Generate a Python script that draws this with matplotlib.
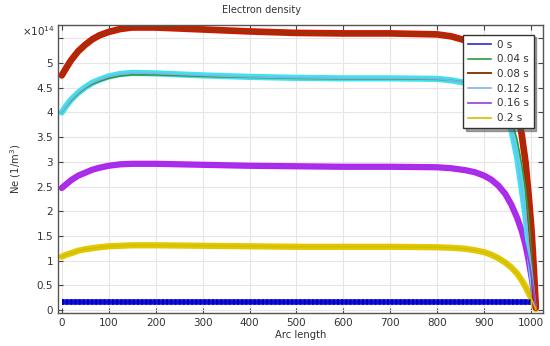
import matplotlib
matplotlib.use("Agg")
import matplotlib.pyplot as plt

arc = [0, 10, 20, 35, 50, 65, 80, 100, 125, 150, 200, 300, 400, 500, 600, 700,
       800, 830, 860, 880, 900, 915, 930, 945, 958, 970, 980, 988, 995, 1001,
       1006, 1010]

ne_004 = [4.0, 4.13, 4.24, 4.38, 4.49, 4.57, 4.63, 4.69, 4.74, 4.76, 4.76, 4.73,
          4.71, 4.69, 4.68, 4.68, 4.67, 4.65, 4.61, 4.57, 4.5, 4.42, 4.3, 4.12,
          3.85, 3.45, 2.95, 2.45, 1.85, 1.2, 0.6, 0.05]
ne_008 = [4.75, 4.91, 5.06, 5.24, 5.37, 5.48, 5.56, 5.63, 5.69, 5.72, 5.72, 5.68,
          5.64, 5.61, 5.6, 5.6, 5.58, 5.54, 5.46, 5.38, 5.27, 5.15, 4.98, 4.75,
          4.45, 4.05, 3.55, 3.0, 2.3, 1.6, 0.8, 0.05]
ne_012 = [4.0, 4.14, 4.26, 4.4, 4.51, 4.6, 4.66, 4.73, 4.78, 4.8, 4.79, 4.75,
          4.72, 4.7, 4.69, 4.69, 4.68, 4.65, 4.6, 4.54, 4.45, 4.34, 4.18, 3.98,
          3.65, 3.1, 2.45, 1.9, 1.3, 0.8, 0.4, 0.05]
ne_016 = [2.47, 2.55, 2.63, 2.72, 2.78, 2.84, 2.88, 2.92, 2.95, 2.96, 2.96, 2.94,
          2.92, 2.91, 2.9, 2.9, 2.89, 2.87, 2.83, 2.79, 2.72, 2.64, 2.52, 2.35,
          2.13, 1.87, 1.6, 1.32, 0.99, 0.66, 0.35, 0.05]
ne_02 = [1.08, 1.12, 1.15, 1.2, 1.23, 1.25, 1.27, 1.29, 1.3, 1.31, 1.31, 1.3,
         1.29, 1.28, 1.28, 1.28, 1.27, 1.26, 1.24, 1.21, 1.17, 1.12, 1.05, 0.96,
         0.86, 0.74, 0.6, 0.47, 0.34, 0.22, 0.11, 0.02]
arc_0 = [0, 500, 1000]
ne_0 = [0.17, 0.17, 0.17]

labels = ["0 s", "0.04 s", "0.08 s", "0.12 s", "0.16 s", "0.2 s"]
yticks = [0, 0.5, 1, 1.5, 2, 2.5, 3, 3.5, 4, 4.5, 5, 5.5]
ytick_labels = ["0", "0.5", "1", "1.5", "2", "2.5", "3", "3.5", "4", "4.5", "5", ""]
xticks = [0, 100, 200, 300, 400, 500, 600, 700, 800, 900, 1000]

plt.rcParams['font.family'] = ['DejaVu Sans']
fig = plt.figure(figsize=(5.5, 3.46), dpi=100)
ax = fig.add_axes([0.1055, 0.0962, 0.8815, 0.8315])

txt = '#333333'
# thick highlight strokes
ax.plot(arc_0, ne_0, color='#1010ee', lw=4.0, solid_capstyle='butt', zorder=2)
ax.plot(arc_0, ne_0, color='#0000b0', lw=4.0, ls=(0, (0.35, 0.4)), zorder=2.1)
ax.plot(arc, ne_02, color='#e3c800', lw=4.5, solid_capstyle='round', zorder=2)
ax.plot(arc, ne_016, color='#b822f0', lw=4.5, solid_capstyle='round', zorder=2)
ax.plot(arc, ne_012, color='#3fe3f0', lw=4.5, solid_capstyle='round', zorder=2)
ax.plot(arc, ne_008, color='#cc1a00', lw=4.8, solid_capstyle='round', zorder=2)

# thin series lines
ax.plot([], [], color='#2a2ad0', lw=1.2, label=labels[0])
ax.plot(arc, ne_004, color='#2f9a40', lw=1.2, label=labels[1], zorder=3)
ax.plot(arc, ne_008, color='#8a3a10', lw=1.4, label=labels[2], zorder=3)
ax.plot(arc, ne_012, color='#7fb5ea', lw=1.2, label=labels[3], zorder=3)
ax.plot(arc, ne_016, color='#9040e0', lw=1.2, label=labels[4], zorder=3)
ax.plot(arc, ne_02, color='#d0c000', lw=1.2, label=labels[5], zorder=3)

ax.set_xlim(-8, 1025)
ax.set_ylim(-0.055, 5.77)
ax.set_xticks(xticks)
ax.set_yticks(yticks)
ax.set_yticklabels(ytick_labels)
ax.tick_params(direction='in', top=True, right=True, labelsize=7.5,
               colors='#444444', labelcolor=txt, length=3.5, width=0.8)
ax.grid(True, color='#e6e6e6', lw=0.8, zorder=0)
ax.set_axisbelow(True)
for s in ax.spines.values():
    s.set_color('#555555')
    s.set_linewidth(1.0)

ax.set_title("Electron density", fontsize=7.0, color=txt, pad=9, x=0.42)
ax.set_xlabel("Arc length", fontsize=7.2, color=txt, labelpad=2)
ax.set_ylabel("Ne (1/m$^3$)", fontsize=7.2, color=txt, labelpad=10)
fig.text(0.040, 0.91, "×10$^{14}$", fontsize=7.5, color=txt, va='center')

leg = ax.legend(loc='upper right', bbox_to_anchor=(0.981, 0.967), fontsize=7.5,
                frameon=True, fancybox=False, shadow=True, handlelength=2.2,
                borderpad=0.5, labelspacing=0.45, handletextpad=0.5,
                borderaxespad=0)
leg.get_frame().set_edgecolor('#333333')
leg.get_frame().set_linewidth(1.0)
for t in leg.get_texts():
    t.set_color(txt)

fig.savefig("out.png", dpi=100)
